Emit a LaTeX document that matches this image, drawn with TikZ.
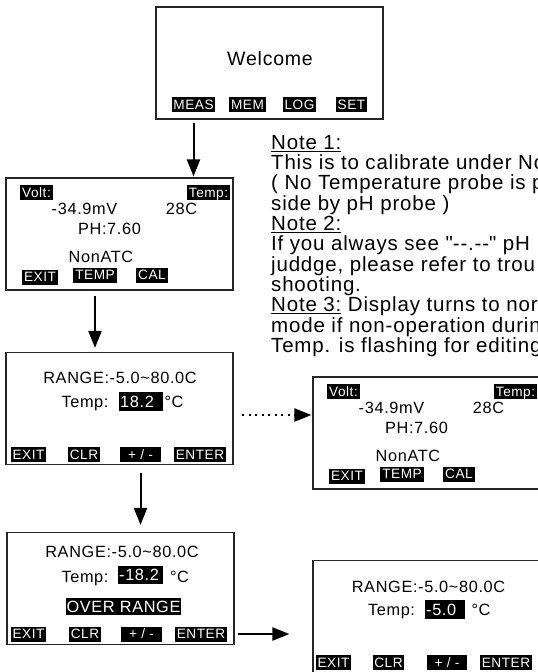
\documentclass[tikz,border=0pt]{standalone}
\usepackage{fontspec}
\setmainfont{Liberation Sans}[LetterSpace=4]
\usetikzlibrary{arrows.meta, positioning}

\tikzset{
  screen/.style={draw=black!85, line width=1.1pt, minimum width=227pt, minimum height=112pt, inner sep=0pt},
  lcd/.style={inner sep=0pt, text height=11.7pt, text depth=0pt, font=\fontsize{16.3}{16.3}\selectfont},
  keycap/.style={fill=black, text=white, inner xsep=1.8pt, inner ysep=2.6pt, text height=9.8pt, text depth=0pt, font=\fontsize{13.6}{13.6}\selectfont},
  numbox/.style={fill=black, text=white, inner xsep=1pt, inner ysep=3.2pt, text height=11.7pt, text depth=0pt, font=\fontsize{16.3}{16.3}\selectfont},
  flow/.style={-{Triangle[length=17pt,width=13pt]}, line width=2pt},
  dotflow/.style={flow, dash pattern=on 2pt off 4.5pt},
  notes/.style={inner sep=0pt, align=left, font=\fontsize{20.5}{20.3}\selectfont},
}

% measuring screen, used twice
\newcommand{\voltscreen}[1]{%
  \node[screen] (#1) at (119.5,234) {};
  \node[keycap] (#1volt) at (36.5,192.5) {Volt:};
  \node[keycap] (#1temp) at (208.5,192.5) {Temp:};
  \node[lcd] (#1mv) at (84.5,209) {-34.9mV};
  \node[lcd] (#1deg) at (181.5,209) {28C};
  \node[lcd] (#1ph) at (109.5,228.5) {PH:7.60};
  \node[lcd] (#1atc) at (101,256.5) {NonATC};
  \node[keycap] (#1exit) at (40,277) {EXIT};
  \node[keycap] (#1tkey) at (95,275) {TEMP};
  \node[keycap] (#1cal) at (152,275) {CAL};
}

\begin{document}
\begin{tikzpicture}[x=1pt, y=-1pt]
  \useasboundingbox (0,0) rectangle (538,672);
  \fill[white] (0,0) rectangle (538,672);
  \clip (0,0) rectangle (538,672);

  % welcome screen
  \node[screen] (scrA) at (269.5,63) {};
  \node[lcd, font=\fontsize{19.5}{19.5}\selectfont, text height=14pt] (welcome) at (270,58.5) {Welcome};
  \node[keycap] (meas) at (193.5,104.5) {MEAS};
  \node[keycap] (mem) at (247.5,104.5) {MEM};
  \node[keycap] (logkey) at (299.5,104.5) {LOG};
  \node[keycap] (setkey) at (351.5,104.5) {SET};

  % measuring screen
  \voltscreen{scrB}

  % temperature edit
  \node[screen] (scrC) at (119.5,408.5) {};
  \node[lcd] (rngC) at (120,378) {RANGE:-5.0\textasciitilde80.0C};
  \node[lcd] (tmpC) at (85,402) {Temp:};
  \node[numbox, anchor=west] (valC) at (119,401.5) {18.2\enspace};
  \node[lcd] (unitC) at (174,402) {°C};
  \node[keycap] (exitC) at (28.5,454.5) {EXIT};
  \node[keycap] (clrC) at (84,454.5) {CLR};
  \node[keycap, minimum width=41pt] (pmC) at (140.5,454.5) {+ / -};
  \node[keycap] (entC) at (200,454.5) {ENTER};

  % over range
  \node[screen] (scrD) at (120.5,588.5) {};
  \node[lcd] (rngD) at (122,552) {RANGE:-5.0\textasciitilde80.0C};
  \node[lcd] (tmpD) at (85,577) {Temp:};
  \node[numbox, anchor=west] (valD) at (118,575) {-18.2\,};
  \node[lcd] (unitD) at (179.5,577) {°C};
  \node[numbox, inner ysep=2.7pt] (overD) at (123.5,606.5) {OVER RANGE};
  \node[keycap] (exitD) at (28.5,634) {EXIT};
  \node[keycap] (clrD) at (85,634) {CLR};
  \node[keycap, minimum width=41pt] (pmD) at (141.5,634) {+ / -};
  \node[keycap] (entD) at (201,634) {ENTER};

  % back to measuring
  \begin{scope}[shift={(307,199)}]
    \voltscreen{scrE}
  \end{scope}

  % lower limit
  \node[screen] (scrF) at (426.5,616.5) {};
  \node[lcd] (rngF) at (428.5,587) {RANGE:-5.0\textasciitilde80.0C};
  \node[lcd] (tmpF) at (391.5,610) {Temp:};
  \node[numbox, anchor=west] (valF) at (425,609.5) {-5.0\enspace};
  \node[lcd] (unitF) at (481,610) {°C};
  \node[keycap] (exitF) at (333.5,662.5) {EXIT};
  \node[keycap] (clrF) at (388.5,662.5) {CLR};
  \node[keycap, minimum width=40pt] (pmF) at (447,662.5) {+ / -};
  \node[keycap] (entF) at (506,662.5) {ENTER};

  % notes
  \node[notes, anchor=north west] (notes) at (271,135) {%
    \underline{Note 1:}\\
    This is to calibrate under No\\
    ( No Temperature probe is p\\
    side by pH probe )\\
    \underline{Note 2:}\\
    If you always see \textquotedbl-{}-.-{}-\textquotedbl{} pH\\
    juddge, please refer to trou\\
    shooting.\\
    \underline{Note 3:} Display turns to nor\\
    mode if non-operation durin\\
    Temp. is flashing for editing};

  % arrows
  \draw[flow, shorten <=3pt, shorten >=1pt] (meas |- scrA.south) -- (meas |- scrB.north);
  \draw[flow, shorten <=5pt, shorten >=4pt] (scrBtkey |- scrB.south) -- (scrBtkey |- scrC.north);
  \draw[flow, shorten <=8pt, shorten >=7pt] (pmC |- scrC.south) -- (pmC |- scrD.north);
  \draw[flow, shorten <=3pt, shorten >=23pt] (scrD.east |- entD) -- (scrF.west |- entD);
  \coordinate (dotC) at (242,415);
  \draw[dotflow, shorten >=1pt] (dotC) -- (dotC -| scrE.west);
\end{tikzpicture}
\end{document}
